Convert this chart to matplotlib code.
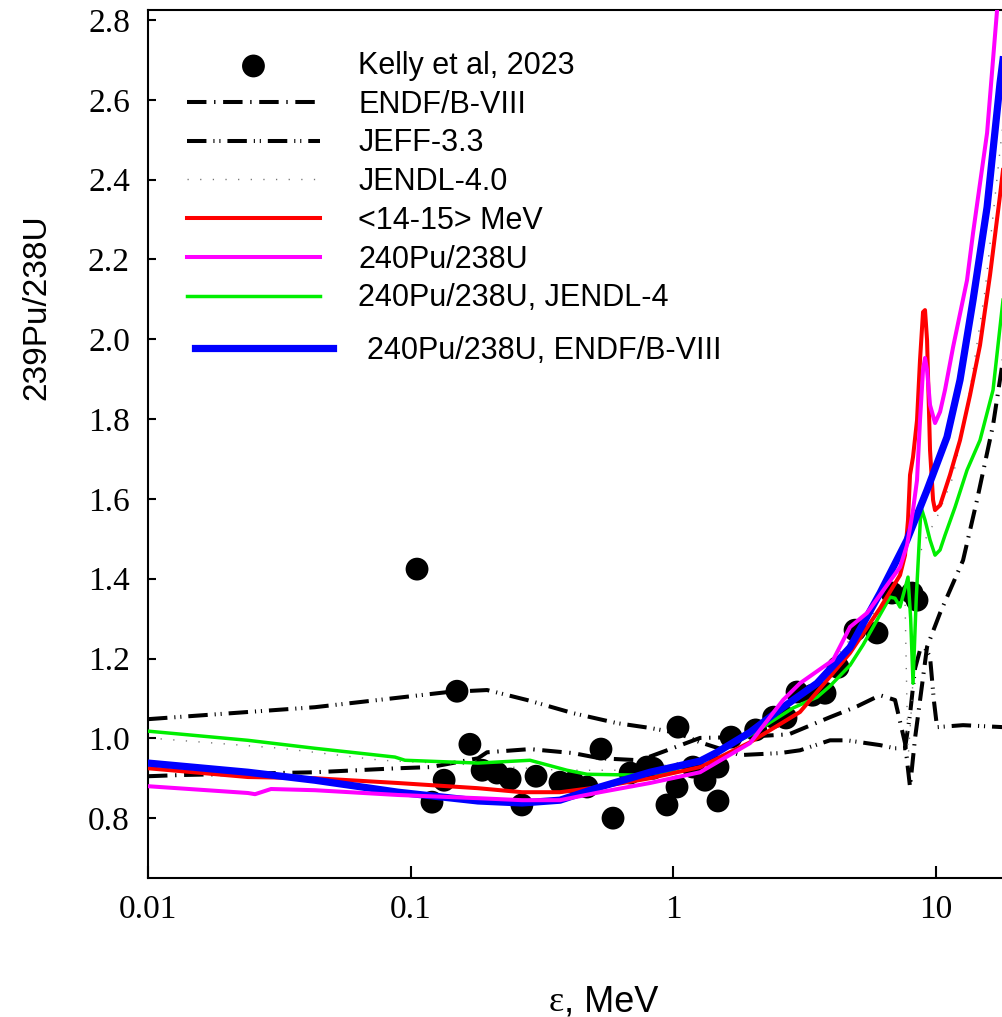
import matplotlib
matplotlib.use("Agg")
import matplotlib.pyplot as plt
from matplotlib.font_manager import FontProperties
from matplotlib.ticker import FixedLocator, FixedFormatter, NullLocator

plt.rcParams["lines.scale_dashes"] = False

# ---- measured ratio, Kelly et al. 2023 ----
kelly_e = [0.1057, 0.150, 0.168, 0.134, 0.1205, 0.187, 0.213, 0.239, 0.265, 0.300,
           0.370, 0.415, 0.469, 0.530, 0.589, 0.684, 0.793, 0.836, 0.945, 1.041,
           1.032, 1.187, 1.319, 1.478, 1.478, 1.658, 2.056, 2.407, 2.683, 2.955,
           3.385, 3.777, 4.233, 4.913, 5.957, 6.794, 8.096, 8.458]
kelly_r = [1.424, 1.118, 0.985, 0.895, 0.840, 0.920, 0.913, 0.898, 0.833, 0.905,
           0.890, 0.890, 0.878, 0.973, 0.800, 0.913, 0.928, 0.925, 0.833, 1.028,
           0.878, 0.928, 0.895, 0.928, 0.843, 1.003, 1.021, 1.053, 1.051, 1.116,
           1.108, 1.113, 1.178, 1.271, 1.264, 1.364, 1.364, 1.346]

# ---- evaluated libraries ----
endf_e = [0.01, 0.01336, 0.0432, 0.0895, 0.1195, 0.1804, 0.1952, 0.2845, 0.415, 0.5255,
          0.746, 0.945, 1.263, 1.793, 2.75, 3.946, 5.0, 6.116, 6.976, 7.614, 7.955,
          8.312, 9.235, 10.35, 12.66, 14.31, 16.47, 17.97]
endf_r = [0.905, 0.908, 0.915, 0.925, 0.928, 0.950, 0.965, 0.973, 0.963, 0.950,
          0.945, 0.970, 1.001, 1.003, 1.010, 1.053, 1.080, 1.108, 1.096, 0.988, 0.878,
          1.000, 1.229, 1.314, 1.446, 1.597, 1.785, 1.948]

jeff_e = [0.01, 0.0432, 0.1387, 0.1952, 0.2772, 0.415, 0.610, 0.8145, 1.041, 1.263,
          1.793, 2.546, 3.033, 3.946, 4.580, 6.116, 6.976, 7.614, 7.955, 8.312,
          8.683, 9.072, 9.480, 9.80, 10.08, 12.66, 17.97]
jeff_r = [1.048, 1.078, 1.116, 1.121, 1.096, 1.063, 1.038, 1.026, 1.013, 0.990,
          0.958, 0.963, 0.970, 0.995, 0.995, 0.983, 0.975, 0.975, 1.060, 1.175,
          1.221, 1.226, 1.204, 1.096, 1.028, 1.033, 1.028]

jendl_e = [0.01, 0.0321, 0.0771, 0.1804, 0.370, 0.746, 1.263, 2.136, 3.3, 5.0,
           6.976, 7.614, 7.816, 8.1, 8.532, 9.072, 10.08, 11.60, 13.46, 15.36, 17.51, 17.97]
jendl_r = [1.001, 0.975, 0.945, 0.933, 0.920, 0.920, 0.950, 1.020, 1.120, 1.270,
           1.370, 1.345, 0.945, 1.100, 1.450, 1.497, 1.554, 1.655, 1.873, 2.123, 2.474, 2.540]

# ---- model calculations ----
avg14_e = [0.01, 0.0240, 0.0432, 0.0895, 0.1804, 0.2653, 0.370, 0.5255, 0.8145, 1.263,
           1.957, 3.033, 4.702, 6.116, 7.288, 7.614, 7.816, 7.955, 8.167, 8.458, 8.683,
           8.915, 9.072, 9.235, 9.480, 9.735, 9.904, 10.35, 11.29, 12.33, 13.46, 14.69,
           16.04, 17.51, 17.97]
avg14_r = [0.925, 0.903, 0.900, 0.888, 0.875, 0.865, 0.865, 0.878, 0.900, 0.928,
           0.990, 1.066, 1.214, 1.326, 1.409, 1.459, 1.547, 1.660, 1.705, 1.797, 1.948,
           2.068, 2.073, 1.998, 1.722, 1.597, 1.572, 1.584, 1.660, 1.747, 1.860, 1.985,
           2.161, 2.361, 2.424]

pu240_e = [0.01, 0.0240, 0.02555, 0.0294, 0.0432, 0.0895, 0.1804, 0.2653, 0.370, 0.5255,
           0.8145, 1.263, 1.957, 2.614, 3.033, 4.051, 4.702, 5.458, 7.288, 7.749,
           8.167, 8.458, 8.683, 8.915, 9.072, 9.235, 9.480, 9.904, 10.35, 10.81, 11.60,
           13.11, 13.82, 15.63, 17.06, 17.51]
pu240_r = [0.880, 0.863, 0.860, 0.873, 0.870, 0.858, 0.850, 0.845, 0.845, 0.865,
           0.888, 0.915, 0.988, 1.096, 1.138, 1.196, 1.279, 1.314, 1.429, 1.484,
           1.572, 1.647, 1.797, 1.923, 1.953, 1.923, 1.835, 1.790, 1.818, 1.873, 1.980,
           2.148, 2.266, 2.517, 2.825, 2.925]

pu240_jendl_e = [0.01, 0.0240, 0.0432, 0.0871, 0.0951, 0.1804, 0.2845, 0.3936, 0.469, 0.702,
                 0.945, 1.263, 1.957, 2.853, 3.521, 3.946, 4.702, 5.270, 6.676, 6.976,
                 7.288, 7.816, 8.0, 8.167, 8.40, 8.760, 9.072, 9.480, 9.904, 10.35,
                 10.81, 11.80, 13.11, 14.69, 16.47, 17.97]
pu240_jendl_r = [1.018, 0.995, 0.975, 0.953, 0.945, 0.938, 0.945, 0.920, 0.910, 0.908,
                 0.915, 0.945, 1.008, 1.076, 1.103, 1.131, 1.183, 1.234, 1.354, 1.351,
                 1.329, 1.404, 1.300, 1.138, 1.350, 1.579, 1.547, 1.497, 1.459, 1.472,
                 1.509, 1.579, 1.672, 1.747, 1.873, 2.098]

pu240_endf_e = [0.01, 0.0240, 0.0432, 0.0895, 0.1804, 0.2653, 0.370, 0.5255, 0.8145, 1.263,
                1.466, 1.957, 2.614, 3.521, 4.702, 6.116, 7.749, 9.235, 11.00, 12.33,
                13.82, 15.63, 17.51, 17.97]
pu240_endf_r = [0.938, 0.915, 0.895, 0.865, 0.843, 0.838, 0.845, 0.878, 0.915, 0.943,
                0.965, 1.015, 1.078, 1.138, 1.228, 1.364, 1.497, 1.622, 1.755, 1.898,
                2.098, 2.331, 2.642, 2.700]

x_ticks = [0.01, 0.1, 1, 10]
x_tick_labels = ["0.01", "0.1", "1", "10"]
y_ticks = [0.8, 1.0, 1.2, 1.4, 1.6, 1.8, 2.0, 2.2, 2.4, 2.6, 2.8]
y_tick_labels = ["0.8", "1.0", "1.2", "1.4", "1.6", "1.8", "2.0", "2.2", "2.4", "2.6", "2.8"]

W, H = 1003, 1017
fig = plt.figure(figsize=(W / 100, H / 100), dpi=100)
ax = fig.add_axes([148 / W, 139 / H, 855 / W, 868 / H])

h_kelly = ax.scatter(kelly_e, kelly_r, s=270, color="black", edgecolors="none",
                     zorder=3, label="Kelly et al, 2023")
h_endf, = ax.plot(endf_e, endf_r, color="black", lw=2.9,
                  dashes=(14, 5.5, 1.0, 5.5), zorder=2, label="ENDF/B-VIII")
h_jeff, = ax.plot(jeff_e, jeff_r, color="black", lw=2.9,
                  dashes=(14, 5, 0.8, 3.5, 0.8, 5), zorder=2, label="JEFF-3.3")
h_jendl, = ax.plot(jendl_e, jendl_r, color="0.45", lw=1.0,
                   dashes=(0.9, 8.2), zorder=2, label="JENDL-4.0")
h_green, = ax.plot(pu240_jendl_e, pu240_jendl_r, color="#00ee00", lw=2.5,
                   zorder=4, label="240Pu/238U, JENDL-4")
h_red, = ax.plot(avg14_e, avg14_r, color="#ff0000", lw=2.9, zorder=4.2,
                 label="<14-15> MeV")
h_blue, = ax.plot(pu240_endf_e, pu240_endf_r, color="#0000ff", lw=5.2, zorder=4.4,
                  label="240Pu/238U, ENDF/B-VIII")
h_mag, = ax.plot(pu240_e, pu240_r, color="#ff00ff", lw=2.9, zorder=4.6,
                 label="240Pu/238U")

ax.set_xscale("log")
ax.set_xlim(0.01, 17.97)
ax.set_ylim(0.65, 2.825)

ax.spines["right"].set_visible(False)
for side in ("left", "top", "bottom"):
    ax.spines[side].set_linewidth(1.5)

ax.xaxis.set_major_locator(FixedLocator(x_ticks))
ax.xaxis.set_major_formatter(FixedFormatter(x_tick_labels))
ax.xaxis.set_minor_locator(NullLocator())
ax.yaxis.set_major_locator(FixedLocator(y_ticks))
ax.yaxis.set_major_formatter(FixedFormatter(y_tick_labels))
ax.yaxis.set_minor_locator(NullLocator())

ax.tick_params(axis="x", direction="in", length=8.6, width=1.5, pad=12,
               top=False, labelsize=24)
ax.tick_params(axis="y", direction="in", length=6, width=1.5, pad=13,
               right=False, labelsize=24)
for lab in ax.get_xticklabels() + ax.get_yticklabels():
    lab.set_family("Liberation Serif")

fig.text(37 / W, 1 - 307 / H, "239Pu/238U", rotation=90, family="Liberation Sans",
         fontsize=24, ha="center", va="center")
fig.text(564 / W, 1 - 1011 / H, "ε", family="Liberation Serif", fontsize=26,
         ha="right", va="baseline")
fig.text(564 / W, 1 - 1011 / H, ", MeV", family="Liberation Sans", fontsize=26,
         ha="left", va="baseline")

legend_font = FontProperties(family="Liberation Sans", size=22)
main_handles = [h_kelly, h_endf, h_jeff, h_jendl, h_red, h_mag, h_green]
leg_main = ax.legend(handles=main_handles,
                     labels=[h.get_label() for h in main_handles],
                     loc="upper left", bbox_to_anchor=(187 / W, 1 - 51 / H),
                     bbox_transform=fig.transFigure, frameon=False, prop=legend_font,
                     handlelength=4.35, handletextpad=1.25, labelspacing=0.285,
                     borderpad=0, borderaxespad=0, scatterpoints=1)
ax.add_artist(leg_main)
ax.legend(handles=[h_blue], labels=[h_blue.get_label()],
          loc="upper left", bbox_to_anchor=(195 / W, 1 - 336 / H),
          bbox_transform=fig.transFigure, frameon=False, prop=legend_font,
          handlelength=4.5, handletextpad=1.12, borderpad=0, borderaxespad=0)

fig.savefig("out.png", dpi=100)
